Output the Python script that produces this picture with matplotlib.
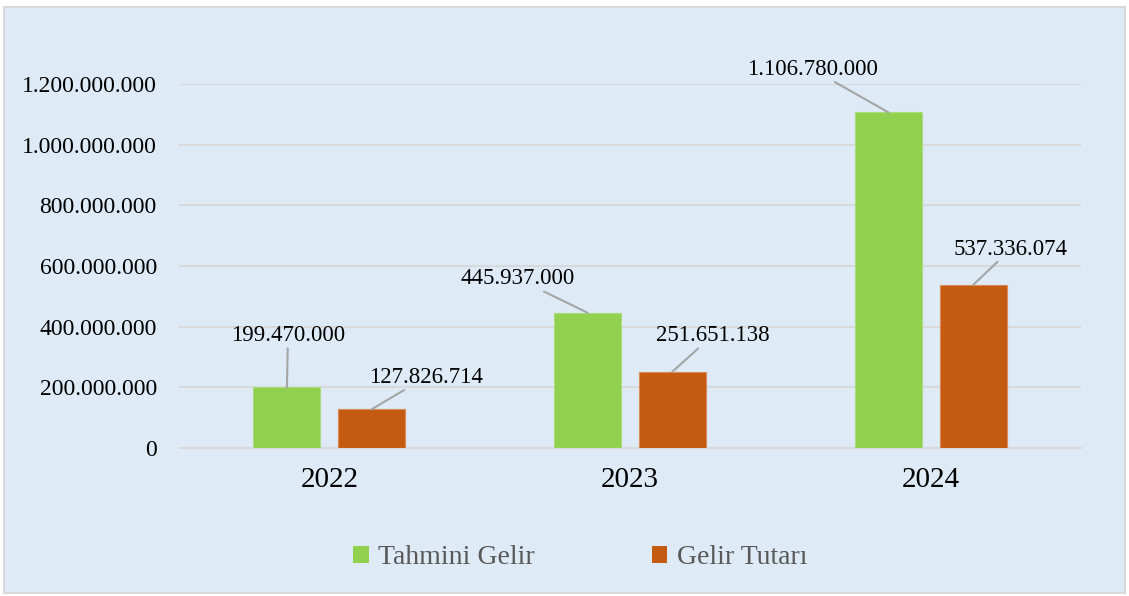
import numpy as np
import matplotlib.pyplot as plt
from matplotlib.patches import Patch, Rectangle

# Dane
years = ["2022", "2023", "2024"]
tahmini_gelir = [199470000, 445937000, 1106780000]
gelir_tutari = [127826714, 251651138, 537336074]
series_names = ["Tahmini Gelir", "Gelir Tutarı"]
y_ticks = [0, 200000000, 400000000, 600000000, 800000000, 1000000000, 1200000000]

# Przesunięcia etykiet (piksele) względem szczytu słupka
green_offsets = [(1, 52), (-70, 34), (-76, 43)]
orange_offsets = [(54, 32), (40, 36), (38, 36)]

GREEN = "#92D050"
ORANGE = "#C55A11"
BG = "#DEEAF6"
GRID = "#D9D9D9"


def fmt_tr(v):
    # separator tysięcy: kropka (format turecki)
    return f"{int(v):,}".replace(",", ".")


plt.rcParams['font.family'] = ['Liberation Serif', 'DejaVu Serif']

fig = plt.figure(figsize=(11.29, 5.96), dpi=100)
fig.patch.set_facecolor("white")
fig.patches.append(Rectangle((4 / 1129, 3 / 596), 1121 / 1129, 586 / 596,
                             transform=fig.transFigure, facecolor=BG,
                             edgecolor=GRID, linewidth=1.5, zorder=-10))

ax = fig.add_axes([179 / 1129, 1 - 448 / 596, 902 / 1129, 364 / 596])
ax.set_facecolor("none")

x = np.arange(len(years))
w = 0.223
off = 0.141
bars_g = ax.bar(x - off, tahmini_gelir, w, color=GREEN, edgecolor="#A9DB80",
                linewidth=0.8, zorder=3)
bars_o = ax.bar(x + off, gelir_tutari, w, color=ORANGE, edgecolor="#D98A55",
                linewidth=0.8, zorder=3)

ax.set_xlim(-0.5, len(years) - 0.5)
ax.set_ylim(0, 1200000000)
ax.set_yticks(y_ticks)
ax.set_yticklabels([fmt_tr(t) for t in y_ticks], fontsize=17, color="black")
ax.set_xticks(x)
ax.set_xticklabels(years, fontsize=21, color="black")
ax.tick_params(axis='both', length=0)
ax.tick_params(axis='y', pad=16)
ax.tick_params(axis='x', pad=14)

ax.grid(axis='y', color=GRID, linewidth=1.5, zorder=0)
for s in ["top", "right", "left"]:
    ax.spines[s].set_visible(False)
ax.spines["bottom"].set_color(GRID)
ax.spines["bottom"].set_linewidth(1.5)

# Etykiety z liniami odniesienia
for bars, vals, offs in [(bars_g, tahmini_gelir, green_offsets),
                         (bars_o, gelir_tutari, orange_offsets)]:
    for b, v, (dx, dy) in zip(bars, vals, offs):
        ax.annotate(fmt_tr(v), xy=(b.get_x() + b.get_width() / 2, v),
                    xytext=(dx, dy), textcoords='offset pixels',
                    ha='center', va='center', fontsize=16.5, color="black",
                    bbox=dict(boxstyle="square,pad=0.1", fc="none", ec="none"),
                    arrowprops=dict(arrowstyle='-', color="#A5A5A5", lw=1.5,
                                    shrinkA=0, shrinkB=0),
                    zorder=5)

handles = [Patch(facecolor=GREEN, edgecolor="none"),
           Patch(facecolor=ORANGE, edgecolor="none")]
leg = fig.legend(handles, series_names, loc='center', ncol=2,
                 bbox_to_anchor=(0.514, 1 - 558 / 596), frameon=False,
                 fontsize=20, handlelength=0.55, handleheight=0.55,
                 handletextpad=0.35, columnspacing=4.2)
for t in leg.get_texts():
    t.set_color("#595959")

fig.savefig("out.png", dpi=100, facecolor=fig.get_facecolor())
